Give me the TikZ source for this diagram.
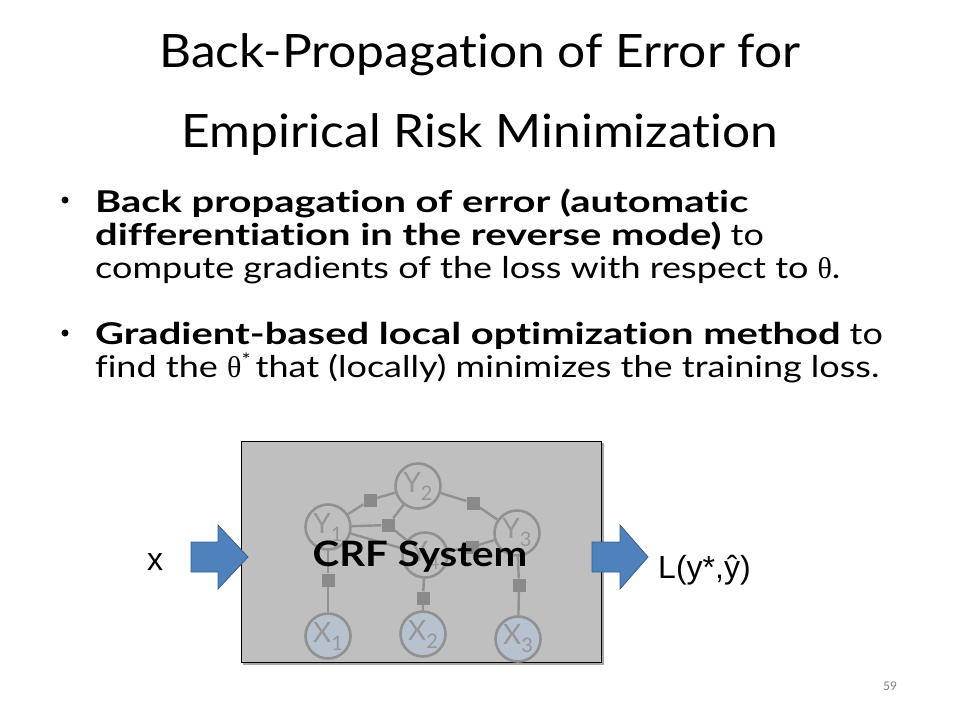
\documentclass[tikz,border=0pt]{standalone}
\usepackage{fontspec}
\setmainfont{Lato}[Ligatures=NoCommon]
\newfontfamily\titlefont{Lato}[FakeStretch=1.08, Ligatures=NoCommon]
\newfontfamily\bodyrg{Lato}[FakeStretch=1.2, Ligatures=NoCommon]
\newfontfamily\bodybf{Lato}[FakeStretch=1.33, Ligatures=NoCommon]
\newfontfamily\crffont{Lato}[FakeStretch=1.15, Ligatures=NoCommon]
\newfontfamily\arialf{Liberation Sans}
\newfontfamily\symf{Liberation Serif}
\usetikzlibrary{backgrounds}
\definecolor{boxgray}{RGB}{191,191,191}
\definecolor{edgegray}{RGB}{145,145,145}
\definecolor{sqgray}{RGB}{138,138,138}
\definecolor{xfill}{RGB}{184,194,207}
\definecolor{labgray}{RGB}{150,150,150}
\definecolor{arrblue}{RGB}{79,129,189}
\definecolor{arrborder}{RGB}{56,93,138}
\newcommand{\bb}[1]{{\bodybf\bfseries #1}}
\tikzset{
  titletext/.style={anchor=base, inner sep=0pt, font=\titlefont\fontsize{46}{46}\selectfont},
  bodytext/.style={anchor=base west, inner sep=0pt, font=\bodyrg\fontsize{30}{30}\selectfont},
  bulletdot/.style={circle, fill=black, inner sep=0pt, minimum size=7pt},
  ynode/.style={circle, draw=edgegray, line width=2.6pt, minimum size=45pt, inner sep=0pt, fill=boxgray, text=labgray, font=\fontsize{28}{28}\selectfont},
  xnode/.style={ynode, fill=xfill},
  factor/.style={rectangle, fill=sqgray, minimum size=13pt, inner sep=0pt},
  edge/.style={draw=edgegray, line width=2.4pt},
  blockarrow/.style={fill=arrblue, draw=arrborder, line width=0.8pt, line join=miter},
}
\newcommand{\vlab}[2]{#1\raisebox{-8pt}{\fontsize{20}{20}\selectfont #2}}
\begin{document}
\begin{tikzpicture}[x=1pt, y=-1pt]
\useasboundingbox (0,0) rectangle (960,720);
% title
\node[titletext] (t1) at (480,67) {Back-Propagation of Error for};
\node[titletext] (t2) at (480,147) {Empirical Risk Minimization};
% bullets
\node[bulletdot] (b1) at (65,200) {};
\node[bodytext] (l1) at (95,212) {\bb{Back propagation of error (automatic}};
\node[bodytext] (l2) at (95,245) {\bb{differentiation in the reverse mode)} to};
\node[bodytext] (l3) at (95,278) {compute gradients of the loss with respect to {\symf θ}.};
\node[bulletdot] (b2) at (65,333) {};
\node[bodytext] (l4) at (95,344) {\bb{Gradient-based local optimization method} to};
\node[bodytext] (l5) at (95,377) {find the {\symf θ}\raisebox{11pt}{\fontsize{18}{18}\selectfont *}\,that (locally) minimizes the training loss.};
% box
\begin{scope}[on background layer]
\fill[black!35] (243,443) rectangle (604,665);
\draw[black, line width=0.8pt, fill=boxgray] (241,441) rectangle (601,662);
\end{scope}
% graph nodes
\node[ynode] (y1) at (328,527) {\vlab{Y}{1}};
\node[ynode] (y2) at (418,486) {\vlab{Y}{2}};
\node[ynode] (y3) at (517,533) {\vlab{Y}{3}};
\node[ynode] (y4) at (425,555) {\vlab{Y}{4}};
\node[xnode] (x1) at (328,636) {\vlab{X}{1}};
\node[xnode] (x2) at (423,634) {\vlab{X}{2}};
\node[xnode] (x3) at (518,639) {\vlab{X}{3}};
\node[factor] (f12) at (370,500) {};
\node[factor] (f23) at (473,503) {};
\node[factor] (f124) at (388,525) {};
\node[factor] (f34) at (472,547) {};
\node[factor] (f1) at (328,580) {};
\node[factor] (f4) at (423,598) {};
\node[factor] (f3) at (519,585) {};
\begin{scope}[on background layer]
\draw[edge] (y1) -- (f12) -- (y2);
\draw[edge] (y2) -- (f23) -- (y3);
\draw[edge] (y1) -- (f124) -- (y4);
\draw[edge] (y2) -- (f124);
\draw[edge] (y1) -- (y4);
\draw[edge] (y4) -- (f34) -- (y3);
\draw[edge] (y1) -- (f1) -- (x1);
\draw[edge] (y4) -- (f4) -- (x2);
\draw[edge] (y3) -- (f3) -- (x3);
\end{scope}
\node[font=\crffont\fontsize{35}{35}\selectfont\bfseries, inner sep=0pt] (crf) at (420,557) {CRF System};
% arrows
\draw[blockarrow] (191,542) -- (218,542) -- (218,525) -- (248,557) -- (218,589) -- (218,572) -- (191,572) -- cycle;
\draw[blockarrow] (592,542) -- (620,542) -- (620,525) -- (648,557) -- (620,589) -- (620,572) -- (592,572) -- cycle;
\node[font=\arialf\fontsize{32}{32}\selectfont, anchor=base, inner sep=0pt] (xin) at (155,570) {x};
\node[font=\arialf\fontsize{32}{32}\selectfont, anchor=base west, inner sep=0pt] (loss) at (658,578) {L(y*,ŷ)};
\node[font=\fontsize{12}{12}\selectfont, text=black!50, anchor=base, inner sep=0pt] (pg) at (890,690) {59};
\end{tikzpicture}
\end{document}
